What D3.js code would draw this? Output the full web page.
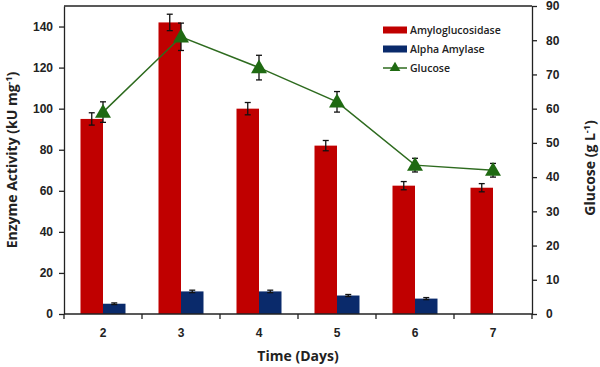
<!DOCTYPE html>
<html>
<head>
<meta charset="utf-8">
<script src="https://cdn.jsdelivr.net/npm/d3@7"></script>
<style>
  body { margin: 0; background: #fff; }
  svg { display: block; font-family: "Open Sans", sans-serif; }
  .axis text { font-size: 12px; font-weight: bold; fill: #222; }
  .axis path, .axis line { stroke: #222; stroke-width: 1.3; }
</style>
</head>
<body>
<div id="chart"></div>
<script>
const days = ["2", "3", "4", "5", "6", "7"];
const amyloglucosidase = [95, 142, 100, 82, 62.5, 61.5];
const amyloglucosidaseErr = [3, 4, 3, 2.5, 2, 2];
const alphaAmylase = [5, 11, 11, 9, 7.5, null];
const alphaAmylaseErr = [0.4, 0.6, 0.6, 0.5, 0.5, null];
const glucose = [59, 81, 72, 62, 43.5, 42];
const glucoseErr = [3, 4, 3.6, 3, 2, 2];
const leftTicks = [0, 20, 40, 60, 80, 100, 120, 140];
const rightTicks = [0, 10, 20, 30, 40, 50, 60, 70, 80, 90];

const W = 600, H = 367;
const margin = { top: 6, right: 68, bottom: 53, left: 64 };
const width = W - margin.left - margin.right;
const height = H - margin.top - margin.bottom;

const svg = d3.select("#chart").append("svg")
    .attr("width", W)
    .attr("height", H);

const g = svg.append("g")
    .attr("transform", `translate(${margin.left},${margin.top})`);

const x = d3.scaleBand().domain(days).range([0, width]);
const bw = 22.5;
const yL = d3.scaleLinear().domain([0, 150]).range([height, 0]);
const yR = d3.scaleLinear().domain([0, 90]).range([height, 0]);

// frame top
g.append("line")
    .attr("x1", 0).attr("x2", width)
    .attr("y1", 0).attr("y2", 0)
    .attr("stroke", "#222").attr("stroke-width", 1.3);

// bars
const red = "#C00000", blue = "#0A2A6B", green = "#2E6B1F";

g.selectAll(".amy")
    .data(days)
    .enter().append("rect")
    .attr("x", d => x(d) + x.bandwidth() / 2 - bw)
    .attr("y", (d, i) => yL(amyloglucosidase[i]))
    .attr("width", bw)
    .attr("height", (d, i) => height - yL(amyloglucosidase[i]))
    .attr("fill", red);

g.selectAll(".alpha")
    .data(days.filter((d, i) => alphaAmylase[i] != null))
    .enter().append("rect")
    .attr("x", d => x(d) + x.bandwidth() / 2)
    .attr("y", d => yL(alphaAmylase[days.indexOf(d)]))
    .attr("width", bw)
    .attr("height", d => height - yL(alphaAmylase[days.indexOf(d)]))
    .attr("fill", blue);

function errorBar(cx, y0, y1) {
    const e = g.append("g").attr("stroke", "#111").attr("stroke-width", 1.3);
    e.append("line").attr("x1", cx).attr("x2", cx).attr("y1", y0).attr("y2", y1);
    e.append("line").attr("x1", cx - 3).attr("x2", cx + 3).attr("y1", y0).attr("y2", y0);
    e.append("line").attr("x1", cx - 3).attr("x2", cx + 3).attr("y1", y1).attr("y2", y1);
}

days.forEach((d, i) => {
    const c = x(d) + x.bandwidth() / 2;
    errorBar(c - bw / 2, yL(amyloglucosidase[i] + amyloglucosidaseErr[i]), yL(amyloglucosidase[i] - amyloglucosidaseErr[i]));
    if (alphaAmylase[i] != null) {
        errorBar(c + bw / 2, yL(alphaAmylase[i] + alphaAmylaseErr[i]), yL(alphaAmylase[i] - alphaAmylaseErr[i]));
    }
});

// glucose line
const line = d3.line()
    .x((d, i) => x(days[i]) + x.bandwidth() / 2)
    .y(d => yR(d));

g.append("path")
    .datum(glucose)
    .attr("fill", "none")
    .attr("stroke", green)
    .attr("stroke-width", 1.5)
    .attr("d", line);

days.forEach((d, i) => {
    const c = x(d) + x.bandwidth() / 2;
    errorBar(c, yR(glucose[i] + glucoseErr[i]), yR(glucose[i] - glucoseErr[i]));
});

const tri = d3.symbol().type(d3.symbolTriangle).size(110);
g.selectAll(".tri")
    .data(glucose)
    .enter().append("path")
    .attr("d", tri)
    .attr("transform", (d, i) => `translate(${x(days[i]) + x.bandwidth() / 2},${yR(d) + 1})`)
    .attr("fill", "#1F6A12");

// axes
g.append("g")
    .attr("class", "axis")
    .call(d3.axisLeft(yL).tickValues(leftTicks).tickSize(5).tickPadding(6).tickSizeOuter(0));

g.append("g")
    .attr("class", "axis")
    .attr("transform", `translate(${width},0)`)
    .call(d3.axisRight(yR).tickValues(rightTicks).tickSize(5).tickPadding(9).tickSizeOuter(0));

const xAxis = g.append("g")
    .attr("class", "axis")
    .attr("transform", `translate(0,${height})`)
    .call(d3.axisBottom(x).tickSize(0).tickPadding(14));
xAxis.select(".domain").remove();
xAxis.append("line")
    .attr("x1", 0).attr("x2", width)
    .attr("stroke", "#222").attr("stroke-width", 1.3);
xAxis.selectAll(".sep")
    .data(d3.range(days.length + 1))
    .enter().append("line")
    .attr("x1", i => i * x.step()).attr("x2", i => i * x.step())
    .attr("y1", 0).attr("y2", 5)
    .attr("stroke", "#222").attr("stroke-width", 1.3);

// axis titles
svg.append("text")
    .attr("x", margin.left + width / 2)
    .attr("y", 361)
    .attr("text-anchor", "middle")
    .style("font-size", "14px")
    .style("font-weight", "bold")
    .style("fill", "#222")
    .text("Time (Days)");

const lt = svg.append("text")
    .attr("transform", `translate(17,${margin.top + height / 2}) rotate(-90)`)
    .attr("text-anchor", "middle")
    .style("font-size", "14px")
    .style("font-weight", "bold")
    .style("fill", "#222");
lt.append("tspan").text("Enzyme Activity  (kU mg");
lt.append("tspan").attr("dy", -5).style("font-size", "9px").text("-1");
lt.append("tspan").attr("dy", 5).text(")");

const rt = svg.append("text")
    .attr("transform", `translate(595,${margin.top + height / 2 + 8}) rotate(-90)`)
    .attr("text-anchor", "middle")
    .style("font-size", "14px")
    .style("font-weight", "bold")
    .style("fill", "#222");
rt.append("tspan").text("Glucose  (g L");
rt.append("tspan").attr("dy", -5).style("font-size", "9px").text("-1");
rt.append("tspan").attr("dy", 5).text(")");

// legend
const legendItems = ["Amyloglucosidase", "Alpha Amylase", "Glucose"];
const legend = svg.append("g").attr("transform", "translate(383,30)");
legendItems.forEach((name, i) => {
    const row = legend.append("g").attr("transform", `translate(0,${i * 19})`);
    if (i < 2) {
        row.append("rect")
            .attr("x", 0).attr("y", -3.5)
            .attr("width", 24).attr("height", 7)
            .attr("fill", i === 0 ? red : blue);
    } else {
        row.append("line")
            .attr("x1", 0).attr("x2", 24)
            .attr("stroke", green).attr("stroke-width", 1.5);
        row.append("path")
            .attr("d", d3.symbol().type(d3.symbolTriangle).size(50))
            .attr("transform", "translate(12,0)")
            .attr("fill", "#1F6A12");
    }
    row.append("text")
        .attr("x", 27)
        .attr("dy", "0.35em")
        .style("font-size", "10.5px")
        .style("font-weight", "600")
        .style("fill", "#222")
        .text(name);
});
</script>
</body>
</html>
